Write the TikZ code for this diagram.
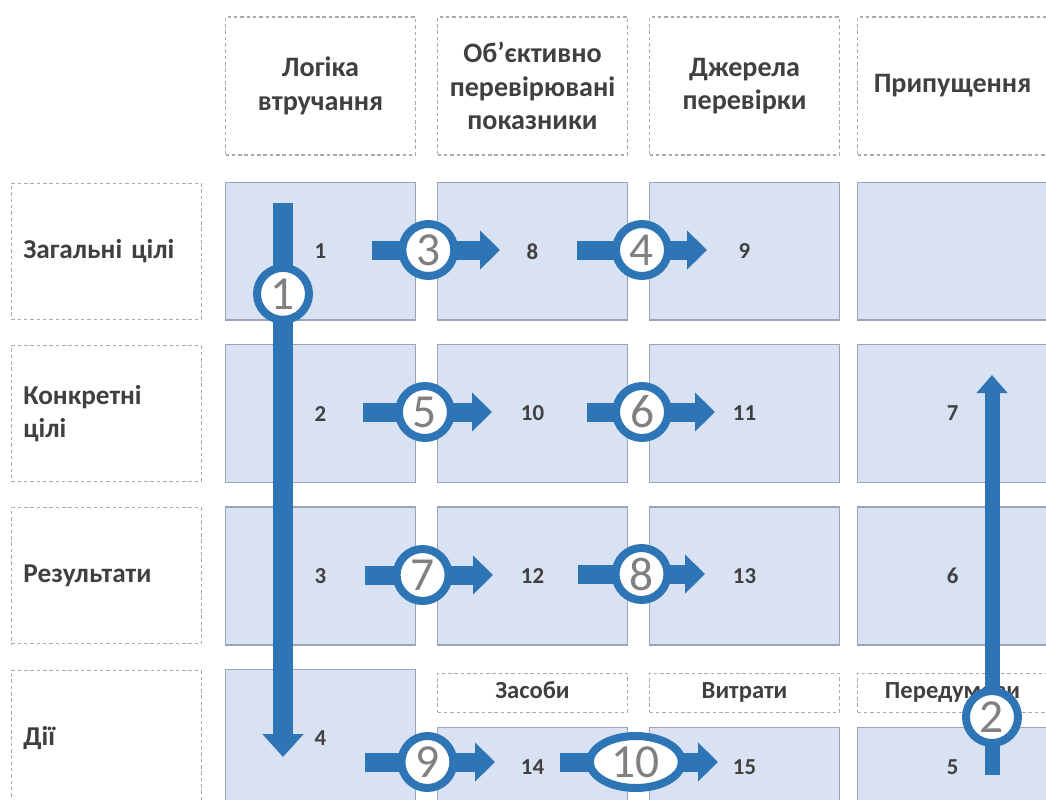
\documentclass[tikz,border=0pt]{standalone}
\usepackage{fontspec}
\setmainfont{Carlito}
\usetikzlibrary{positioning,arrows.meta,shapes.geometric}
\definecolor{cellfill}{HTML}{D9E2F3}
\definecolor{cellline}{HTML}{9AA5B9}
\definecolor{dashline}{HTML}{ABABAB}
\definecolor{arrowblue}{HTML}{2E75B6}
\definecolor{textgray}{HTML}{404040}
\definecolor{ringgray}{HTML}{808080}

\begin{document}
\begin{tikzpicture}[x=0.02cm,y=-0.02cm,node distance=0.46cm and 0.42cm,
        text=textgray,
        head node/.style={draw=dashline,dash pattern=on 2pt off 1.6pt,line width=0.6pt,
          minimum width=3.8cm,minimum height=2.76cm,align=center,
          font=\fontsize{16}{19}\selectfont\bfseries},
        row node/.style={draw=dashline,dash pattern=on 2pt off 1.6pt,line width=0.6pt,
          minimum width=3.8cm,minimum height=2.72cm,text width=3.32cm,inner xsep=0.24cm,
          align=left,font=\fontsize{15.5}{19}\selectfont\bfseries},
        sub node/.style={draw=dashline,dash pattern=on 2pt off 1.6pt,line width=0.6pt,
          minimum width=3.8cm,minimum height=0.78cm,text height=1.6ex,text depth=0.3ex,
          font=\fontsize{14}{16}\selectfont\bfseries},
        cell node/.style={draw=cellline,fill=cellfill,line width=0.8pt,
          minimum width=3.8cm,minimum height=2.76cm,font=\fontsize{13}{15}\selectfont\bfseries},
        low node/.style={cell node,minimum height=1.6cm},
        flow line/.style={draw=arrowblue,line width=0.38cm,-{Triangle[length=0.4cm,width=0.76cm]}},
        long line/.style={draw=arrowblue,line width=0.4cm,-{Triangle[length=0.46cm,width=0.8cm]}},
        up line/.style={draw=arrowblue,line width=0.3cm,-{Triangle[length=0.36cm,width=0.6cm]}},
        ring node/.style={circle,draw=arrowblue,fill=white,line width=0.16cm,minimum size=1.04cm,
          inner sep=0pt,text=ringgray,font=\fontsize{27}{27}\selectfont},
        oval node/.style={ring node,ellipse,minimum width=1.84cm,minimum height=1.04cm}]
        \path[use as bounding box,fill=white] (0,0) rectangle (1046,799);

        % column heads
        \node[head node] (h1) at (320.5,86) {Логіка\\втручання};
        \node[head node] (h2) [right=of h1] {Об’єктивно\\перевірювані\\показники};
        \node[head node] (h3) [right=of h2] {Джерела\\перевірки};
        \node[head node] (h4) [right=0.34cm of h3] {Припущення};

        % first column
        \node[cell node] (c1) [below=0.52cm of h1] {1};
        \node[cell node] (c2) [below=of c1] {2};
        \node[cell node] (c3) [below=of c2] {3};
        \node[cell node] (c4) [below=of c3] {4};

        % row labels
        \node[row node] (r1) [left=0.46cm of c1] {Загальні цілі};
        \node[row node] (r2) [left=0.46cm of c2] {Конкретні\\цілі};
        \node[row node] (r3) [left=0.46cm of c3] {Результати};
        \node[row node] (r4) [left=0.46cm of c4] {Дії};

        % other columns
        \node[cell node] (c8) [below=0.52cm of h2] {8};
        \node[cell node] (c10) [below=of c8] {10};
        \node[cell node] (c12) [below=of c10] {12};
        \node[sub node] (s1) [below=0.54cm of c12] {Засоби};
        \node[low node] (c14) [below=0.28cm of s1] {14};

        \node[cell node] (c9) [below=0.52cm of h3] {9};
        \node[cell node] (c11) [below=of c9] {11};
        \node[cell node] (c13) [below=of c11] {13};
        \node[sub node] (s2) [below=0.54cm of c13] {Витрати};
        \node[low node] (c15) [below=0.28cm of s2] {15};

        \node[cell node] (c0) [below=0.52cm of h4] {};
        \node[cell node] (c7) [below=of c0] {7};
        \node[cell node] (c6) [below=of c7] {6};
        \node[sub node] (s3) [below=0.54cm of c6] {Передумови};
        \node[low node] (c5) [below=0.28cm of s3] {5};

        % arrow ends
        \coordinate (a1s) at (283,203);
        \coordinate (a1e) at (283,757);
        \coordinate (a2s) at (992,775);
        \coordinate (a2e) at (992,375);
        \coordinate (a3s) at (372,250);
        \coordinate (a3e) at (500,250);
        \coordinate (a4s) at (577,250);
        \coordinate (a4e) at (707,250);
        \coordinate (a5s) at (363,412);
        \coordinate (a5e) at (492,412);
        \coordinate (a6s) at (587,412);
        \coordinate (a6e) at (715,412);
        \coordinate (a7s) at (365,575);
        \coordinate (a7e) at (493,575);
        \coordinate (a8s) at (578,574);
        \coordinate (a8e) at (705,574);
        \coordinate (a9s) at (365,762);
        \coordinate (a9e) at (495,762);
        \coordinate (a10s) at (560,762);
        \coordinate (a10e) at (718,762);

        \draw[long line] (a1s) -- node[ring node,pos=0.164] (k1) {1} (a1e);
        \draw[up line] (a2s) -- node[ring node,pos=0.145] (k2) {2} (a2e);
        \draw[flow line] (a3s) -- node[ring node,pos=0.44] (k3) {3} (a3e);
        \draw[flow line] (a4s) -- node[ring node,pos=0.5] (k4) {4} (a4e);
        \draw[flow line] (a5s) -- node[ring node,pos=0.48] (k5) {5} (a5e);
        \draw[flow line] (a6s) -- node[ring node,pos=0.43] (k6) {6} (a6e);
        \draw[flow line] (a7s) -- node[ring node,pos=0.45] (k7) {7} (a7e);
        \draw[flow line] (a8s) -- node[ring node,pos=0.5] (k8) {8} (a8e);
        \draw[flow line] (a9s) -- node[ring node,pos=0.48] (k9) {9} (a9e);
        \draw[flow line] (a10s) -- node[oval node,pos=0.48] (k10) {10} (a10e);
\end{tikzpicture}
\end{document}
